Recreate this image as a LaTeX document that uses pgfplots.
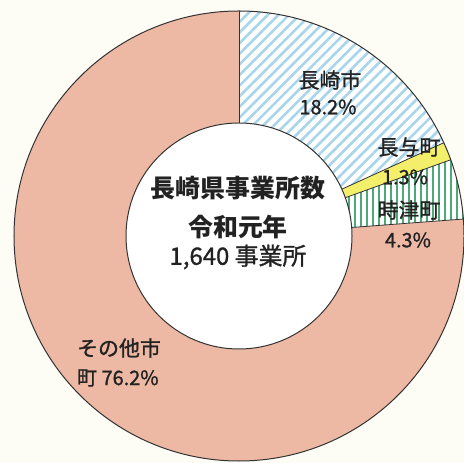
\documentclass[border=0pt]{standalone}
\usepackage{fontspec}
\setmainfont{Noto Sans CJK JP}
\newfontfamily\med{Noto Sans CJK JP}[FakeBold=1.2]
\usepackage{pgfplots}
\usepackage{pgfplotstable}
\pgfplotsset{compat=1.18}
\usetikzlibrary{patterns.meta}
\definecolor{bg}{HTML}{FDFDF6}
\definecolor{pinkc}{HTML}{EDB9A5}
\definecolor{hatchblue}{HTML}{A9D5EA}
\definecolor{yellowc}{HTML}{F4EF6A}
\definecolor{greenc}{HTML}{4FA878}
\definecolor{edge}{HTML}{333333}
\definecolor{txt}{HTML}{222222}

\pgfplotstableread{
label value
長崎市 18.2
長与町 1.3
時津町 4.3
その他市町 76.2
}\data

\pgfplotstablegetelem{0}{value}\of\data \let\vA\pgfplotsretval
\pgfplotstablegetelem{1}{value}\of\data \let\vB\pgfplotsretval
\pgfplotstablegetelem{2}{value}\of\data \let\vC\pgfplotsretval
\pgfplotstablegetelem{3}{value}\of\data \let\vD\pgfplotsretval
\pgfmathsetmacro\aO{90}
\pgfmathsetmacro\aA{\aO-3.6*\vA}
\pgfmathsetmacro\aB{\aA-3.6*\vB}
\pgfmathsetmacro\aC{\aB-3.6*\vC}
\pgfmathsetmacro\aD{\aC-3.6*\vD}

\begin{document}
\begin{tikzpicture}
\begin{axis}[x=1bp, y=1bp, xmin=0, xmax=464, ymin=0, ymax=463,
  hide axis, clip=true]
\fill[bg] (axis cs:0,0) rectangle (axis cs:464,463);
\coordinate (c) at (axis cs:239,227);
% その他市町
\fill[pinkc] (c) -- ++(\aC:225bp) arc[start angle=\aC, end angle=\aD, radius=225bp] -- cycle;
% 長崎市
\fill[white] (c) -- ++(\aO:225bp) arc[start angle=\aO, end angle=\aA, radius=225bp] -- cycle;
\fill[pattern={Lines[angle=45, distance=7.5bp, line width=2.6bp]}, pattern color=hatchblue]
  (c) -- ++(\aO:225bp) arc[start angle=\aO, end angle=\aA, radius=225bp] -- cycle;
% 長与町
\fill[yellowc] (c) -- ++(\aA:225bp) arc[start angle=\aA, end angle=\aB, radius=225bp] -- cycle;
% 時津町
\fill[white] (c) -- ++(\aB:225bp) arc[start angle=\aB, end angle=\aC, radius=225bp] -- cycle;
\pgfplotsextra{
  \begin{scope}
    \clip (c) -- ++(\aB:225bp) arc[start angle=\aB, end angle=\aC, radius=225bp] -- cycle;
    \foreach \k in {0,...,40} {
      \draw[greenc, line width=2.6bp] ([xshift=\k*6bp+2bp]c) ++(0,-50bp) -- ++(0,200bp);
    }
  \end{scope}
}
% edges
\draw[edge, line width=0.8bp] (c) -- ++(\aO:225bp);
\draw[edge, line width=0.8bp] (c) -- ++(\aA:225bp);
\draw[edge, line width=0.8bp] (c) -- ++(\aB:225bp);
\draw[edge, line width=0.8bp] (c) -- ++(\aC:225bp);
\draw[edge, line width=1bp] (c) circle[radius=225bp];
\fill[white] (c) circle[radius=113bp];
\draw[edge, line width=1bp] (c) circle[radius=113bp];
% labels
\begin{scope}[every node/.style={text=txt, inner sep=0pt}]
\node[font=\med\fontsize{21}{21}\selectfont] at (axis cs:330,383) {長崎市};
\node[font=\med\fontsize{20}{20}\selectfont] at (axis cs:328,356) {18.2\%};
\node[font=\med\fontsize{21}{21}\selectfont] at (axis cs:409,316) {長与町};
\node[font=\med\fontsize{20}{20}\selectfont] at (axis cs:405,286) {1.3\%};
\node[font=\med\fontsize{21}{21}\selectfont] at (axis cs:409,253) {時津町};
\node[font=\med\fontsize{20}{20}\selectfont] at (axis cs:408,223) {4.3\%};
\node[font=\bfseries\fontsize{25}{25}\selectfont] at (axis cs:238,275) {長崎県事業所数};
\node[font=\bfseries\fontsize{25}{25}\selectfont] at (axis cs:238,236) {令和元年};
\node[font=\med\fontsize{24}{24}\selectfont] at (axis cs:238,206) {1,640 事業所};
\node[font=\med\fontsize{21}{21}\selectfont, anchor=west] at (axis cs:77,115) {その他市};
\node[font=\med\fontsize{20}{20}\selectfont, anchor=west] at (axis cs:77,85) {町 76.2\%};
\end{scope}
\end{axis}
\end{tikzpicture}
\end{document}
